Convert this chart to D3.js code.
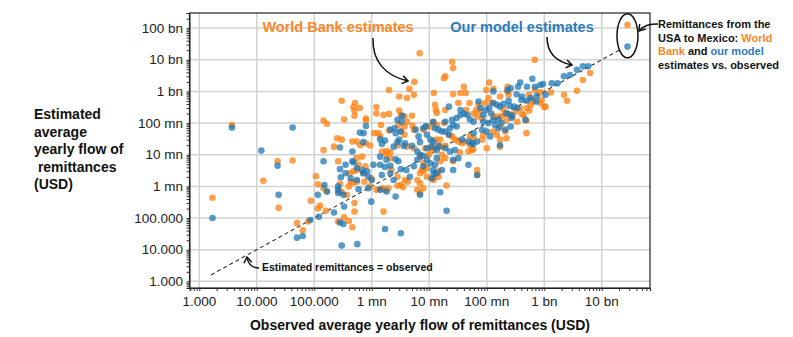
<!doctype html>
<html>
<head>
<script src="https://d3js.org/d3.v7.min.js"></script>
<style>
  body { margin: 0; background: #fff; }
  text { font-family: "Liberation Sans", Arial, sans-serif; }
</style>
</head>
<body>
<div id="chart"></div>
<script>
// tick values and labels (shared by both axes)
var tickValues = [1e3, 1e4, 1e5, 1e6, 1e7, 1e8, 1e9, 1e10, 1e11];
var tickLabels = ["1.000", "10.000", "100.000", "1 mn", "10 mn", "100 mn", "1 bn", "10 bn", "100 bn"];

// [observed, estimated] - World Bank estimates
var wbPoints = [
  [1.7e3,4.4e5],[3.7e3,8.7e7],[2.3e4,6.2e6],[4.2e4,6.6e6],[1.3e4,1.5e6],[2.4e4,2.1e5],[8.7e4,3.5e5],[5.0e4,6.9e4],
  [6.3e4,4.1e4],[7.8e4,7.8e4],[1.15e5,2.0e5],[1.26e5,2.5e5],[1.07e5,2.1e6],[1.15e5,1.17e6],[1.45e5,1.4e7],[1.66e5,6.9e5],
  [1.6e5,1.7e5],[2.8e5,6.9e5],[3.0e5,6.5e5],[2.6e5,6.2e6],[2.8e5,1.2e6],[2.6e5,7.8e4],[3.3e5,1.05e5],[4.0e5,8.1e4],
  [4.6e5,5.1e4],[3.7e5,5.4e5],[5.0e5,3.0e5],[5.0e5,1.6e5],[4.1e5,2.6e6],[5.5e5,3.3e6],[5.9e5,4.8e6],[5.4e5,7.8e6],
  [6.8e5,8.7e6],[7.4e5,1.4e6],[4.3e5,1.4e6],[4.8e5,1.3e6],[9.8e5,1.8e6],[1.4e6,8.1e5],[1.55e6,8.7e5],[1.7e6,7.8e5],
  [1.6e6,1.6e5],[2.8e6,2.0e6],[3.8e6,1.6e6],[4.2e6,1.4e6],[3.2e6,1.1e6],[1.95e6,8.7e5],[6.2e6,7.8e5],[6.9e6,6.2e5],
  [6.9e6,2.6e6],[7.4e6,3.3e6],[4.1e6,1.8e7],[5.4e6,1.6e7],
  [6.8e6,1.6e10],[5.5e6,2.0e9],[4.5e6,1.2e9],[5.4e6,7.8e8],[4.1e6,6.2e8],[3.0e6,6.9e8],[2.0e6,1.1e9],[3.0e5,5.1e8],
  [5.1e5,4.3e8],[4.8e5,3.2e8],[6.2e5,3.0e8],[1.2e6,3.2e8],[3.0e6,2.5e8],[1.2e6,2.0e8],[1.6e6,1.8e8],[2.0e6,1.95e8],
  [5.0e5,1.7e8],[3.3e5,1.3e8],[7.9e5,1.4e8],[7.9e5,1.2e8],[1.45e5,1.2e8],[1.66e5,9.5e7],[3.7e6,1.6e8],[5.0e6,1.7e8],
  [5.1e6,8.3e7],[3.7e6,7.8e7],[5.4e6,6.2e7],[3.7e6,4.3e7],[1.45e6,8.7e7],[2.0e6,5.8e7],[1.1e6,4.8e7],[2.5e5,3.3e7],
  [3.0e5,3.0e7],[4.6e5,2.6e7],[5.5e5,2.6e7],[1.4e6,3.8e7],[2.2e5,1.8e7],[9.3e5,1.95e7],[2.8e6,1.95e7],
  [5.0e5,2.5e8],[3.2e6,1.8e8],[4.1e6,1.1e8],[7.9e6,6.2e7],[9.1e6,7.8e7],[1.2e7,8.9e8],[1.26e7,3.8e8],[1.3e7,2.6e8],
  [1.3e7,3.0e7],[6.3e5,2.0e7],[7.9e5,2.3e7],[1.3e6,4.8e7],[1.5e6,1.26e7],[1.8e6,1.3e7],[2.1e6,1.2e7],[2.9e6,8.7e7],
  [3.2e6,5.4e7],[1.8e6,1.0e7],[2.1e6,7.8e6],[2.2e6,3.3e6],[6.2e6,1.6e6],[6.9e6,1.26e6],[6.9e6,8.7e6],[9.8e6,1.0e7],
  [1.45e7,1.8e7],[4.8e5,3.0e6],[7.2e5,2.6e6],[7.8e5,4.3e6],[4.0e5,1.0e6],[5.5e5,1.4e6],[9.3e5,1.0e6],[1.2e6,7.8e5],
  [1.45e5,8.7e5],[2.8e6,1.05e6],[3.5e6,9.5e5],[9.1e6,3.8e6],[9.1e6,2.0e6],[1.17e7,1.6e6],[1.45e7,2.0e6],[7.9e6,8.7e5],
  [2.5e7,8.7e9],[2.6e7,5.5e9],[1.9e7,3.0e9],[1.8e7,2.6e9],[1.1e8,1.9e9],[6.8e8,1.0e10],[4.0e7,1.4e9],[4.3e7,8.9e8],
  [3.5e7,8.9e8],[9.8e7,1.1e9],[2.3e8,1.4e9],[2.3e8,1.0e9],[5.4e8,7.8e8],[8.5e8,9.3e8],[1.3e9,9.3e8],[2.2e9,7.8e8],
  [2.5e9,5.1e8],[3.7e9,1.05e9],[4.7e9,2.3e9],[1.35e7,2.1e8],[1.9e7,2.6e8],[3.2e7,4.3e8],[5.0e7,4.3e8],[4.4e7,2.6e8],
  [6.6e7,2.6e8],[9.3e7,4.3e8],[1.2e8,4.3e8],[1.7e8,6.9e8],[2.4e8,7.8e8],[1.95e8,2.8e8],[2.1e8,2.0e8],[3.2e8,2.3e8],
  [3.8e8,3.0e8],[4.1e8,1.95e8],[5.5e8,2.5e8],[8.5e8,4.3e8],[1.05e9,3.3e8],[5.9e7,2.0e8],[6.8e7,1.6e8],[8.3e7,1.4e8],
  [7.8e7,2.3e8],[1.3e8,1.6e8],[1.5e8,1.6e8],[1.8e8,1.6e8],[3.4e8,1.1e8],[2.2e8,1.2e8],[4.9e8,4.8e7],[1.05e7,7.8e7],
  [1.17e7,1.1e8],[1.35e7,8.7e7],[1.8e7,1.0e8],[2.2e7,4.3e7],[2.5e7,3.8e7],[2.8e7,3.0e7],[3.2e7,2.6e7],[3.7e7,2.3e7],
  [5.1e7,3.8e7],[5.9e7,3.3e7],[8.3e7,3.0e7],[8.7e7,4.3e7],[1.3e8,5.4e7],[1.5e8,4.3e7],[1.7e8,7.8e7],[2.1e8,5.4e7],
  [2.2e8,3.3e7],[1.7e8,3.0e7],[1.55e7,3.0e7],[1.66e7,1.8e7],[1.26e7,1.6e7],[1.1e7,1.4e7],[1.66e7,1.0e7],[1.9e7,7.8e6],
  [4.0e7,2.6e7],[5.1e7,2.0e7],[5.5e7,1.4e7],[6.8e7,3.3e6],[6.8e7,2.3e6],[1.0e8,1.6e7],[1.7e8,1.8e7],
  [6.3e9,3.8e9],[6.9e8,1.1e9],[8.9e8,5.4e8],[1.0e9,3.2e8],[6.5e8,4.8e8],[5.8e8,3.8e8],[5.0e8,3.0e8],[4.4e8,1.8e8],
  [4.9e8,1.2e8],[2.8e8,1.6e8],[2.4e8,1.95e8],[1.3e8,1.2e9],[2.6e7,8.3e8],[1.07e8,6.2e8],[7.2e7,3.8e8],
  [8.5e6,1.6e7],[1.1e7,1.8e7],[1.9e7,1.9e7],[7.9e6,5.4e6],[7.9e6,3.0e6],[1.45e7,3.0e6],[1.2e7,1.8e6],[1.55e7,6.2e6],
  [2.0e7,1.07e6],[2.6e7,6.2e6],[3.4e7,1.2e7],[4.8e7,1.26e7],[5.8e7,1.5e7]
];

// [observed, estimated] - our model estimates
var modelPoints = [
  [1.7e3,1.0e5],[3.7e3,7.2e7],[4.2e4,7.2e7],[1.2e4,1.35e7],[2.3e4,4.5e6],[2.4e4,5.4e5],[5.0e4,2.4e4],[6.3e4,2.7e4],
  [8.5e4,8.7e4],[1.2e5,1.1e5],[1.15e5,5.4e5],[1.45e5,6.2e6],[1.5e5,1.1e6],[2.2e5,1.5e5],[2.6e5,7.8e5],[2.8e5,3.5e6],
  [2.9e5,1.95e6],[2.8e5,7.2e4],[3.2e5,6.5e4],[3.0e5,1.35e4],[3.3e5,2.3e5],[5.6e5,1.5e4],[4.8e5,5.8e6],[3.5e5,4.8e6],
  [4.6e5,1.26e7],[7.1e5,2.6e6],[5.9e5,8.1e5],[8.3e5,3.0e6],[9.8e5,3.3e5],[1.7e6,4.5e4],[3.2e6,3.3e4],[1.07e6,4.8e6],
  [1.4e6,8.7e6],[1.8e6,6.9e6],[1.5e6,2.3e6],[2.1e6,2.6e6],[2.4e6,1.6e6],[2.6e6,4.8e5],[5.4e6,4.3e6],[6.2e6,6.9e6],
  [6.9e6,1.0e7],
  [3.4e6,1.7e8],[2.8e6,1.26e8],[3.3e6,1.1e8],[7.9e5,8.1e7],[5.8e6,6.2e7],[8.7e6,8.1e7],[6.5e6,3.8e7],[5.0e6,1.9e7],
  [6.2e5,5.0e7],[7.2e5,4.8e7],[2.5e6,6.9e7],[3.2e6,5.4e7],[3.0e6,3.0e7],[7.1e5,2.5e7],[2.8e5,1.7e7],[1.5e6,2.2e7],
  [3.6e6,1.9e7],[1.4e6,3.1e7],[1.7e6,2.8e7],[2.4e6,1.8e7],[2.8e6,2.5e7],[3.8e6,2.3e7],[2.6e6,4.8e7],[2.1e6,6.2e7],
  [2.1e6,4.5e6],[2.6e6,7.2e6],[2.9e6,6.2e6],[1.4e6,4.8e6],[1.7e6,4.1e6],[3.2e6,3.5e6],[4.0e6,3.3e6],[4.6e6,2.0e6],
  [7.9e6,4.3e6],[9.1e6,6.9e6],[1.05e7,5.4e6],[1.26e7,4.8e6],[1.35e7,7.8e6],[6.2e6,1.26e7],[9.1e6,1.6e7],[1.1e7,1.8e7],
  [1.35e7,1.4e7],[4.6e5,6.2e6],[5.5e5,3.8e6],[6.8e5,3.3e6],[3.5e5,2.6e6],[4.3e5,1.8e6],[5.5e5,1.6e6],[8.7e5,2.0e6],
  [1.0e6,1.6e6],[2.6e5,1.0e6],[8.7e5,8.7e5],[1.4e6,7.8e5],[1.8e6,6.9e5],[1.66e5,6.9e5],[2.6e5,6.2e5],[3.2e5,5.4e5],
  [1.17e7,3.3e6],[1.1e7,1.8e6],
  [1.3e8,1.0e9],[3.8e8,1.9e9],[3.5e8,1.4e9],[5.0e8,1.4e9],[6.2e8,2.5e9],[6.9e8,1.4e9],[9.5e8,1.7e9],[1.35e9,1.8e9],
  [1.7e9,1.8e9],[2.2e9,3.0e9],[2.8e9,3.3e9],[3.7e9,4.8e9],[4.7e9,6.2e9],[5.8e9,6.2e9],[3.3e8,8.1e8],[4.1e8,6.9e8],
  [7.4e8,7.2e8],[3.5e7,2.6e8],[3.5e7,1.8e8],[4.0e7,2.0e8],[4.6e7,1.8e8],[3.0e7,1.45e8],[5.1e7,1.3e8],[5.9e7,1.1e8],
  [7.2e7,4.8e8],[7.8e7,3.0e8],[1.1e8,3.0e8],[1.3e8,4.3e8],[1.5e8,3.8e8],[1.7e8,3.3e8],[1.95e8,4.1e8],[2.4e8,5.1e8],
  [2.5e8,3.5e8],[3.0e8,3.3e8],[3.4e8,3.0e8],[4.0e8,5.4e8],[5.0e8,5.1e8],[5.8e8,6.2e8],[7.2e8,4.8e8],[2.7e8,1.8e8],
  [2.7e8,1.45e8],[1.6e8,1.3e8],[1.3e8,1.26e8],[8.7e7,1.8e8],[8.7e7,1.1e8],[1.07e8,1.0e8],[4.7e8,1.26e8],[1.26e7,6.9e7],
  [1.45e7,6.2e7],[1.66e7,5.4e7],[1.9e7,5.4e7],[2.2e7,4.3e7],[2.3e7,6.9e7],[2.6e7,8.7e7],[3.0e7,7.8e7],[3.7e7,3.0e7],
  [4.8e7,2.6e7],[5.5e7,2.3e7],[6.8e7,2.6e7],[5.9e7,4.8e7],[8.3e7,6.2e7],[1.0e8,5.4e7],[1.15e8,3.8e7],[1.4e8,8.7e7],
  [1.6e8,6.9e7],[1.8e8,1.0e8],[2.1e8,6.2e7],[2.6e8,7.8e7],[1.05e7,3.0e7],[1.17e7,2.6e7],[1.9e7,1.6e7],[2.3e7,1.26e7],
  [2.8e7,1.4e7],[2.6e7,6.9e6],[3.2e7,7.8e6],[2.6e7,3.3e6],[4.8e7,4.8e6],[1.35e7,2.6e6],[1.66e7,3.3e6],
  [8.5e8,1.6e9],[2.6e8,1.26e9],[2.3e8,1.1e9],[1.05e9,7.8e8],[9.8e7,2.6e8],[1.2e8,2.0e8],[2.2e8,2.0e8],[2.2e7,3.3e8],
  [2.5e7,1.26e8],[1.9e7,1.1e8],[1.17e7,1.07e8],[7.9e6,6.9e7],[9.1e6,4.3e7],
  [6.9e6,2.5e7],[6.9e6,5.4e5],[1.45e7,1.9e7],[7.8e6,9.3e6],[1.2e7,2.5e6],[1.55e7,6.5e5],[2.0e7,1.7e5],[5.8e7,2.2e7],
  [6.8e7,2.3e6],[1.7e8,2.0e7]
];

// USA -> Mexico corridor
var mexicoWB = [2.8e10, 1.26e11];
var mexicoModel = [2.8e10, 2.6e10];

// extent of the y = x reference line
var diagonalRange = [1.6e3, 2e10];

var W = 793, H = 337;
var plotLeft = 189.5, plotRight = 650, plotTop = 13, plotBottom = 288;
var orange = "#ff7f0e", blue = "#1f77b4";
var orangeText = "#f8872a", blueText = "#2b7bba";

var svg = d3.select("#chart").append("svg")
  .attr("width", W).attr("height", H);

var x = d3.scaleLog().domain([676, 6.9e10]).range([plotLeft, plotRight]);
var y = d3.scaleLog().domain([617, 3.0e11]).range([plotBottom, plotTop]);

// grid
var grid = svg.append("g");
grid.selectAll(".gx").data(tickValues.slice(0, 8)).enter().append("line")
  .attr("x1", function(d) { return x(d); }).attr("x2", function(d) { return x(d); })
  .attr("y1", plotTop).attr("y2", plotBottom)
  .attr("stroke", "#d2d2d2").attr("stroke-width", 1.5);
grid.selectAll(".gy").data(tickValues).enter().append("line")
  .attr("x1", plotLeft).attr("x2", plotRight)
  .attr("y1", function(d) { return y(d); }).attr("y2", function(d) { return y(d); })
  .attr("stroke", "#d2d2d2").attr("stroke-width", 1.5);

// frame
svg.append("rect")
  .attr("x", plotLeft).attr("y", plotTop).attr("width", plotRight - plotLeft).attr("height", plotBottom - plotTop)
  .attr("fill", "none").attr("stroke", "#222").attr("stroke-width", 1.2);

// axes with log minor ticks
var xAxis = d3.axisBottom(x).tickValues(x.ticks()).tickSize(3).tickFormat("");
var yAxis = d3.axisLeft(y).tickValues(y.ticks()).tickSize(3).tickFormat("");
svg.append("g").attr("transform", "translate(0," + plotBottom + ")").call(xAxis)
  .call(function(g) { g.select(".domain").attr("stroke", "#222"); g.selectAll(".tick line").attr("stroke", "#333"); });
svg.append("g").attr("transform", "translate(" + plotLeft + ",0)").call(yAxis)
  .call(function(g) { g.select(".domain").attr("stroke", "#222"); g.selectAll(".tick line").attr("stroke", "#333"); });

// tick labels
svg.append("g").selectAll("text").data(tickValues.slice(0, 8)).enter().append("text")
  .attr("x", function(d) { return x(d); }).attr("y", 306)
  .attr("text-anchor", "middle").attr("font-size", 13.5).attr("fill", "#222")
  .text(function(d, i) { return tickLabels[i]; });
svg.append("g").selectAll("text").data(tickValues).enter().append("text")
  .attr("x", 183).attr("y", function(d) { return y(d) + 4.5; })
  .attr("text-anchor", "end").attr("font-size", 13.5).attr("fill", "#222")
  .text(function(d, i) { return tickLabels[i]; });

// axis titles
svg.append("text").attr("x", 420).attr("y", 330).attr("text-anchor", "middle")
  .attr("font-size", 14).attr("font-weight", "bold").attr("fill", "#111")
  .text("Observed average yearly flow of remittances (USD)");
var yTitle = ["Estimated", "average", "yearly flow of", "\u00a0remittances", "(USD)"];
svg.append("g").selectAll("text").data(yTitle).enter().append("text")
  .attr("x", 34).attr("y", function(d, i) { return 119 + i * 17.5; })
  .attr("font-size", 14).attr("font-weight", "bold").attr("fill", "#111")
  .text(function(d) { return d; });

// y = x line
svg.append("line")
  .attr("x1", x(diagonalRange[0])).attr("y1", y(diagonalRange[0]))
  .attr("x2", x(diagonalRange[1])).attr("y2", y(diagonalRange[1]))
  .attr("stroke", "#333").attr("stroke-width", 1.1).attr("stroke-dasharray", "4,3");

// points
function drawPoints(data, color) {
  svg.append("g").selectAll("circle").data(data).enter().append("circle")
    .attr("cx", function(d) { return x(d[0]); })
    .attr("cy", function(d) { return y(d[1]); })
    .attr("r", 3.3)
    .attr("fill", color).attr("fill-opacity", 0.75);
}
drawPoints(wbPoints.concat([mexicoWB]), orange);
drawPoints(modelPoints.concat([mexicoModel]), blue);

// annotations
function arrow(p0, c1, c2, p1) {
  var path = d3.path();
  path.moveTo(p0[0], p0[1]);
  path.bezierCurveTo(c1[0], c1[1], c2[0], c2[1], p1[0], p1[1]);
  svg.append("path").attr("d", path.toString())
    .attr("fill", "none").attr("stroke", "#111").attr("stroke-width", 1.5);
  var a = Math.atan2(p1[1] - c2[1], p1[0] - c2[0]);
  var len = 7, spread = 0.6;
  var head = d3.path();
  head.moveTo(p1[0] - len * Math.cos(a - spread), p1[1] - len * Math.sin(a - spread));
  head.lineTo(p1[0], p1[1]);
  head.lineTo(p1[0] - len * Math.cos(a + spread), p1[1] - len * Math.sin(a + spread));
  svg.append("path").attr("d", head.toString())
    .attr("fill", "none").attr("stroke", "#111").attr("stroke-width", 1.5);
}

svg.append("text").attr("x", 338).attr("y", 32).attr("text-anchor", "middle")
  .attr("font-size", 14.5).attr("font-weight", "bold").attr("fill", orangeText)
  .text("World Bank estimates");
arrow([373, 38], [372, 62], [386, 76], [408, 81]);

svg.append("text").attr("x", 522).attr("y", 32).attr("text-anchor", "middle")
  .attr("font-size", 14.5).attr("font-weight", "bold").attr("fill", blueText)
  .text("Our model estimates");
arrow([547, 37], [547, 53], [557, 62], [572, 65]);

// ellipse round the Mexico points
svg.append("ellipse")
  .attr("cx", x(mexicoWB[0])).attr("cy", (y(mexicoWB[1]) + y(mexicoModel[1])) / 2)
  .attr("rx", 10.5).attr("ry", 22)
  .attr("fill", "none").attr("stroke", "#111").attr("stroke-width", 1.5);
arrow([658, 24], [650, 24], [644, 25], [639, 31]);

var note = svg.append("text").attr("x", 658).attr("font-size", 11).attr("font-weight", "bold").attr("fill", "#111");
note.append("tspan").attr("x", 658).attr("y", 28).text("Remittances from the");
var l2 = note.append("tspan").attr("x", 658).attr("y", 41.5);
l2.append("tspan").text("USA to Mexico: ");
l2.append("tspan").attr("fill", orangeText).text("World");
var l3 = note.append("tspan").attr("x", 658).attr("y", 55);
l3.append("tspan").attr("fill", orangeText).text("Bank");
l3.append("tspan").text(" and ");
l3.append("tspan").attr("fill", blueText).text("our model");
note.append("tspan").attr("x", 658).attr("y", 68.5).text("estimates vs. observed");

svg.append("text").attr("x", 262).attr("y", 271)
  .attr("font-size", 10.5).attr("font-weight", "bold").attr("fill", "#111")
  .text("Estimated remittances = observed");
arrow([259, 268], [252, 268], [248, 264], [247, 257]);
</script>
</body>
</html>
